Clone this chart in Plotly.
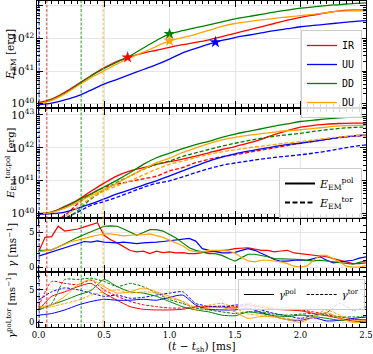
import plotly.graph_objects as go
from plotly.subplots import make_subplots

# ---------------- data ----------------
models = ["IR", "UU", "DD", "DU"]
colors = {"IR": "red", "UU": "blue", "DD": "green", "DU": "orange"}

t_e = [round(0.1 * i, 2) for i in range(26)]

# log10 of E_EM [erg]
logE_tot = {
    "IR": [40.03, 40.14, 40.35, 40.6, 40.86, 41.1, 41.3, 41.44, 41.55, 41.64, 41.73, 41.81, 41.88, 41.96, 42.06, 42.16,
           42.26, 42.36, 42.46, 42.56, 42.65, 42.72, 42.79, 42.85, 42.87, 42.88],
    "UU": [39.97, 40.02, 40.12, 40.24, 40.42, 40.6, 40.75, 40.9, 41.05, 41.2, 41.37, 41.56, 41.7, 41.83, 41.94, 42.03,
           42.1, 42.17, 42.24, 42.3, 42.36, 42.4, 42.44, 42.48, 42.52, 42.55],
    "DD": [40.0, 40.12, 40.32, 40.58, 40.85, 41.08, 41.28, 41.47, 41.71, 41.94, 42.14, 42.24, 42.33, 42.42, 42.51, 42.6,
           42.67, 42.74, 42.81, 42.87, 42.93, 42.97, 43.01, 43.04, 43.07, 43.09],
    "DU": [40.0, 40.1, 40.3, 40.55, 40.8, 41.01, 41.22, 41.41, 41.58, 41.76, 41.93, 42.03, 42.13, 42.25, 42.37, 42.46,
           42.52, 42.57, 42.62, 42.66, 42.7, 42.74, 42.79, 42.84, 42.85, 42.85],
}
star_t = {"IR": 0.68, "UU": 1.35, "DD": 1.0, "DU": 1.0}
star_logE = {"IR": 41.42, "UU": 41.89, "DD": 42.14, "DU": 41.93}

logE_pol = {
    "IR": [40.0, 40.05, 40.22, 40.42, 40.68, 40.93, 41.15, 41.3, 41.4, 41.5, 41.58, 41.66, 41.75, 41.85, 41.95, 42.04,
           42.14, 42.26, 42.4, 42.52, 42.63, 42.68, 42.72, 42.74, 42.75, 42.75],
    "UU": [39.98, 40.0, 40.05, 40.17, 40.3, 40.45, 40.6, 40.73, 40.87, 41.0, 41.15, 41.3, 41.45, 41.6, 41.72, 41.82,
           41.9, 41.97, 42.04, 42.1, 42.14, 42.2, 42.26, 42.32, 42.36, 42.39],
    "DD": [40.0, 40.05, 40.2, 40.4, 40.6, 40.81, 41.02, 41.25, 41.5, 41.7, 41.84, 41.98, 42.1, 42.2, 42.32, 42.42,
           42.5, 42.58, 42.66, 42.73, 42.8, 42.84, 42.88, 42.91, 42.93, 42.95],
    "DU": [40.0, 40.04, 40.17, 40.35, 40.55, 40.73, 40.93, 41.15, 41.35, 41.55, 41.69, 41.86, 42.0, 42.13, 42.24, 42.32,
           42.38, 42.43, 42.48, 42.52, 42.55, 42.59, 42.63, 42.67, 42.68, 42.68],
}
logE_tor = {
    "IR": [39.3, 39.7, 39.95, 40.3, 40.6, 40.8, 40.9, 40.98, 41.06, 41.14, 41.3, 41.4, 41.55, 41.65, 41.73, 41.79,
           41.86, 41.93, 42.0, 42.07, 42.14, 42.2, 42.26, 42.31, 42.35, 42.37],
    "UU": [39.2, 39.5, 39.85, 40.05, 40.25, 40.37, 40.5, 40.65, 40.8, 40.92, 41.0, 41.12, 41.25, 41.37, 41.47, 41.54,
           41.6, 41.66, 41.71, 41.75, 41.79, 41.84, 41.9, 41.97, 42.04, 42.09],
    "DD": [39.2, 39.5, 39.8, 40.1, 40.45, 40.72, 40.95, 41.15, 41.35, 41.5, 41.6, 41.74, 41.85, 41.95, 42.05, 42.14,
           42.22, 42.29, 42.35, 42.4, 42.44, 42.5, 42.55, 42.59, 42.62, 42.63],
    "DU": [39.2, 39.5, 39.9, 40.2, 40.48, 40.68, 40.85, 41.0, 41.18, 41.35, 41.5, 41.6, 41.7, 41.8, 41.88, 41.94,
           42.0, 42.05, 42.1, 42.15, 42.19, 42.24, 42.29, 42.33, 42.37, 42.39],
}

t_g = [round(0.05 * i, 2) for i in range(51)]
gamma = {
    "IR": [2.2, 4.3, 4.4, 5.9, 5.2, 5.3, 5.5, 5.8, 6.05, 6.4, 4.6, 3.95, 3.5, 2.9, 2.4, 2.2, 2.3, 1.95, 2.3, 2.1,
           2.2, 2.05, 2.1, 1.95, 1.95, 2.1, 2.2, 2.2, 2.3, 2.5, 2.67, 2.76, 2.8, 2.6, 2.43, 2.43, 2.2, 2.33, 2.43, 2.05,
           1.95, 1.8, 1.7, 1.57, 1.5, 1.24, 1.0, 0.76, 0.52, 0.52, 0.62],
    "UU": [1.6, 1.9, 2.2, 2.5, 2.8, 3.0, 3.3, 3.7, 3.6, 3.8, 3.6, 3.5, 3.5, 3.6, 3.5, 3.4, 3.5, 3.5, 3.6, 3.7,
           3.8, 3.9, 4.0, 4.14, 3.76, 2.67, 2.43, 2.2, 2.05, 2.05, 2.14, 2.43, 2.67, 2.43, 2.05, 1.57, 1.1, 0.86, 0.86, 1.0,
           1.0, 1.0, 1.24, 1.5, 1.0, 0.62, 0.76, 0.9, 1.0, 1.3, 1.5],
    "DD": [2.4, 2.4, 2.5, 2.9, 3.4, 3.9, 4.3, 4.7, 5.1, 5.6, 5.9, 5.95, 5.9, 5.5, 5.1, 4.6, 5.0, 5.4, 5.4, 5.2,
           4.7, 4.2, 3.5, 2.8, 2.43, 2.2, 1.95, 1.95, 1.7, 1.24, 0.86, 1.38, 1.86, 1.86, 1.7, 1.5, 1.24, 1.24, 1.24, 1.14,
           1.1, 1.0, 0.9, 1.0, 0.9, 0.76, 0.7, 0.6, 0.43, 0.7, 0.9],
    "DU": [2.2, 2.3, 2.5, 2.9, 3.3, 3.7, 3.9, 4.2, 4.4, 4.6, 4.8, 4.8, 4.7, 4.5, 4.6, 4.6, 4.7, 4.8, 4.6, 4.3,
           3.9, 3.5, 3.1, 2.43, 2.2, 2.2, 2.43, 2.43, 2.43, 2.3, 2.05, 1.38, 0.9, 0.76, 1.0, 1.0, 0.9, 0.76, 0.52, 0.14,
           0.02, 0.19, 1.0, 1.7, 1.7, 1.24, 0.76, 0.14, 0.02, 0.02, 0.24],
}

gamma_pol = {
    "IR": [1.9, 4.0, 4.7, 5.5, 6.0, 4.5, 3.4, 2.4, 2.0, 1.9, 1.9, 2.0, 2.4, 2.4, 2.3, 2.2, 2.7, 2.3, 2.0, 1.9,
           1.77, 1.35, 1.0, 0.6, 0.2, 0.05],
    "UU": [1.1, 1.35, 1.9, 2.65, 3.2, 3.55, 3.4, 3.4, 3.55, 3.4, 3.85, 4.2, 2.65, 2.0, 1.9, 1.9, 2.2, 1.5, 0.9, 0.4,
           0.3, 0.7, 0.2, 0.3, 0.6, 0.8],
    "DD": [1.9, 2.7, 3.4, 4.2, 4.9, 6.6, 5.5, 4.7, 4.5, 4.0, 3.2, 2.4, 1.9, 1.6, 1.1, 1.0, 1.6, 1.35, 1.0, 0.9,
           1.1, 0.9, 0.6, 0.3, 0.4, 0.4],
    "DU": [2.4, 2.7, 4.0, 5.8, 6.6, 5.5, 4.5, 4.7, 5.3, 4.7, 4.0, 3.2, 1.9, 2.2, 2.3, 1.6, 0.6, 0.9, 0.8, 0.4,
           0.0, 0.8, 1.5, 0.6, 0.0, 0.0],
}
gamma_tor = {
    "IR": [2.4, 6.3, 6.0, 5.8, 6.5, 5.0, 4.0, 3.2, 2.7, 2.4, 2.2, 2.2, 2.2, 2.4, 2.5, 2.4, 2.9, 2.5, 2.2, 2.2,
           1.9, 1.6, 1.25, 0.83, 0.52, 0.3],
    "UU": [3.4, 4.7, 5.3, 5.0, 4.5, 4.0, 4.2, 3.7, 3.85, 4.2, 4.5, 4.7, 2.9, 2.5, 2.4, 2.65, 2.65, 1.9, 1.35, 1.0,
           0.6, 1.1, 1.5, 2.9, 1.9, 2.4],
    "DD": [1.9, 2.9, 6.6, 6.6, 6.8, 6.3, 5.5, 6.0, 5.5, 4.5, 3.5, 2.9, 2.2, 1.9, 1.6, 1.35, 1.6, 1.6, 1.25, 1.1,
           1.25, 1.35, 1.1, 0.83, 0.83, 0.83],
    "DU": [2.2, 2.4, 2.9, 3.4, 4.2, 4.7, 5.0, 4.5, 4.7, 4.5, 3.7, 3.2, 2.3, 2.65, 2.9, 2.2, 1.25, 1.1, 0.9, 0.6,
           0.3, 1.1, 1.9, 1.1, 0.3, 0.3],
}

t_marks = {"UU": 0.005, "IR": 0.063, "DD": 0.325, "DU": 0.493}

# ---------------- figure ----------------
W, H = 373, 354
ML, MR, MT, MB = 37, 7, 1, 27
fig = make_subplots(rows=4, cols=1, shared_xaxes=True, vertical_spacing=0.01)

serif = "DejaVu Serif"
lw = 1.3
dash_e = "4px,2px"
dash_g = "3px,1.5px"
for m in models:
    c = colors[m]
    fig.add_trace(go.Scatter(x=t_e, y=[10 ** v for v in logE_tot[m]], mode="lines",
                             line=dict(color=c, width=lw, shape="spline"),
                             name=m, legend="legend", showlegend=True), row=1, col=1)
for m in models:
    c = colors[m]
    fig.add_trace(go.Scatter(x=[star_t[m]], y=[10 ** star_logE[m]], mode="markers",
                             marker=dict(symbol="star", size=9, color=c, line=dict(width=0)), showlegend=False), row=1, col=1)
    fig.add_trace(go.Scatter(x=t_e, y=[10 ** v for v in logE_pol[m]], mode="lines",
                             line=dict(color=c, width=lw, shape="spline"), showlegend=False), row=2, col=1)
    fig.add_trace(go.Scatter(x=t_e, y=[10 ** v for v in logE_tor[m]], mode="lines",
                             line=dict(color=c, width=lw, dash=dash_e, shape="spline"), showlegend=False), row=2, col=1)
    fig.add_trace(go.Scatter(x=t_g, y=gamma[m], mode="lines", line=dict(color=c, width=1.2), showlegend=False),
                  row=3, col=1)
    fig.add_trace(go.Scatter(x=t_e, y=gamma_pol[m], mode="lines",
                             line=dict(color=c, width=1.0, shape="spline", smoothing=0.6),
                             showlegend=False), row=4, col=1)
    fig.add_trace(go.Scatter(x=t_e, y=gamma_tor[m], mode="lines",
                             line=dict(color=c, width=1.0, dash=dash_g, shape="spline", smoothing=0.6),
                             showlegend=False), row=4, col=1)

# legend entries for line styles
fig.add_trace(go.Scatter(x=[None], y=[None], mode="lines", line=dict(color="black", width=2),
                         name="<i>E</i><sub>EM</sub><sup>pol</sup>", legend="legend2"), row=2, col=1)
fig.add_trace(go.Scatter(x=[None], y=[None], mode="lines", line=dict(color="black", width=2, dash="5px,2.5px"),
                         name="<i>E</i><sub>EM</sub><sup>tor</sup>", legend="legend2"), row=2, col=1)
fig.add_trace(go.Scatter(x=[None], y=[None], mode="lines", line=dict(color="black", width=1),
                         name="<i>γ</i><sup>pol</sup>", legend="legend3"), row=4, col=1)
fig.add_trace(go.Scatter(x=[None], y=[None], mode="lines", line=dict(color="black", width=1, dash=dash_g),
                         name="<i>γ</i><sup>tor</sup>", legend="legend3"), row=4, col=1)

for m in models:
    fig.add_shape(type="line", xref="x4", yref="paper", x0=t_marks[m], x1=t_marks[m], y0=0, y1=1,
                  line=dict(color=colors[m], width=0.8, dash="3px,1.5px"), layer="above")

pw = W - ML - MR
ph = H - MT - MB


def py(px):
    return (H - MB - px) / ph


def pxx(px):
    return (px - ML) / pw


domains = [[py(107), py(1)], [py(217), py(109)], [py(271), py(219)], [py(327), py(273)]]
axis_common = dict(showline=True, linecolor="black", linewidth=1, mirror="ticks", ticks="inside",
                   ticklen=6, tickwidth=1, tickcolor="black", showgrid=True, gridcolor="#e6e6e6", gridwidth=0.8,
                   zeroline=False, automargin=False, tickfont=dict(family=serif, size=8.5, color="black"))
for i in range(4):
    n = "" if i == 0 else str(i + 1)
    fig.layout["xaxis" + n].update(range=[-0.012, 2.5], dtick=0.5, tick0=0, tickformat=".1f",
                                   minor=dict(ticks="inside", ticklen=3, dtick=0.05, tickcolor="black", showgrid=False),
                                   showticklabels=(i == 3), **axis_common)
    fig.layout["yaxis" + n].update(domain=domains[i], **axis_common)

for n in ["", "2"]:
    fig.layout["yaxis" + n].update(type="log", range=[39.9, 43.15] if n == "" else [39.9, 43.18], dtick=1,
                                   exponentformat="power", showexponent="all",
                                   minor=dict(ticks="inside", ticklen=3, dtick="D1", tickcolor="black", showgrid=False))
fig.layout.yaxis3.update(range=[-0.55, 6.94], dtick=5, tick0=0,
                         minor=dict(ticks="inside", ticklen=3, dtick=1, tickcolor="black", showgrid=False))
fig.layout.yaxis4.update(range=[-0.73, 7.6], dtick=5, tick0=0,
                         minor=dict(ticks="inside", ticklen=3, dtick=1, tickcolor="black", showgrid=False))

tf = dict(family=serif, size=10.5, color="black")
titles = [
    ("<i>E</i><sub>EM</sub> [erg]", 55, 10.5),
    ("<i>E</i><sub>EM</sub><sup>tor,pol</sup> [erg]", 163, 10),
    ("<i>γ</i> [ms<sup>−1</sup>]", 245, 10.5),
    ("<i>γ</i><sup>pol,tor</sup> [ms<sup>−1</sup>]", 305, 10),
]
annotations = []
for txt, yc, fs in titles:
    annotations.append(dict(text=txt, xref="paper", yref="paper", x=pxx(11), y=py(yc), xanchor="center",
                            yanchor="middle", textangle=-90, showarrow=False,
                            font=dict(family=serif, size=fs, color="black")))
annotations.append(dict(text="(<i>t</i> − <i>t</i><sub>sh</sub>) [ms]", xref="paper", yref="paper",
                        x=pxx(202), y=py(347), xanchor="center", yanchor="middle", showarrow=False, font=tf))

leg_common = dict(bgcolor="rgba(255,255,255,0.85)", bordercolor="#cccccc", borderwidth=1, itemwidth=30,
                  tracegroupgap=0)
fig.update_layout(
    width=W, height=H, margin=dict(l=ML, r=MR, t=MT, b=MB, autoexpand=False),
    paper_bgcolor="white", plot_bgcolor="white",
    font=dict(family=serif, color="black"),
    annotations=annotations,
    legend=dict(x=pxx(362), y=py(30), xanchor="right", yanchor="top",
                font=dict(family="DejaVu Sans Mono", size=10), **leg_common),
    legend2=dict(x=pxx(362), y=py(168), xanchor="right", yanchor="top",
                 font=dict(family=serif, size=11), **leg_common),
    legend3=dict(x=pxx(365), y=py(279), xanchor="right", yanchor="top", orientation="h",
                 font=dict(family=serif, size=10), **leg_common),
)

fig.write_html("out.html", config={"displayModeBar": False},
               post_script="document.body.style.margin='0px';document.body.style.padding='0px';")
